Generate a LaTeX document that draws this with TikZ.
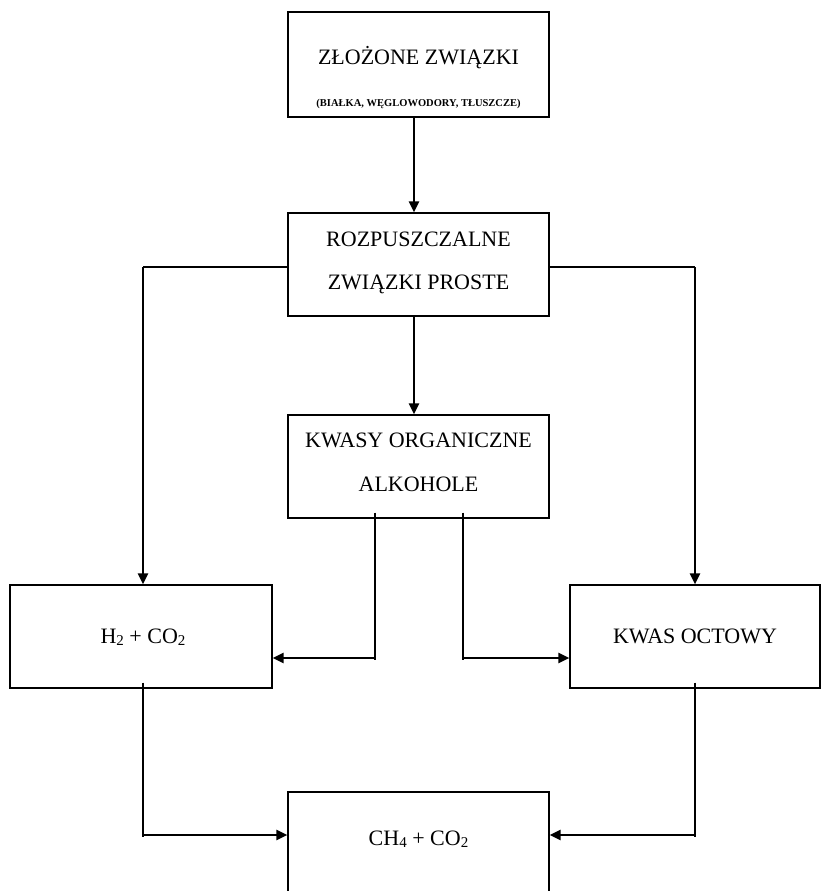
\documentclass[tikz,border=0pt]{standalone}
\usepackage{fontspec}
\setmainfont{Liberation Serif}
\usetikzlibrary{arrows.meta}
\newcommand{\subtxt}[1]{\raisebox{-0.25ex}{\fontsize{15}{15}\selectfont #1}}
\begin{document}
\begin{tikzpicture}[x=1pt,y=-1pt,
  boxnode/.style={draw, line width=1.2pt, inner sep=0pt},
  lbl/.style={anchor=base, inner sep=0pt, font=\fontsize{22}{25}\selectfont},
  sublbl/.style={anchor=base, inner sep=0pt, font=\fontsize{10.5}{12}\selectfont\bfseries},
  thinline/.style={line width=1.1pt},
  arr/.style={line width=2.2pt, -{Triangle[length=11pt,width=10pt]}}]
\useasboundingbox (0,0) rectangle (821,891);
% boxes
\node[boxnode, minimum width=261pt, minimum height=105pt] (b1) at (418.5,64.5) {};
\node[boxnode, minimum width=261pt, minimum height=103pt] (b2) at (418.5,264.5) {};
\node[boxnode, minimum width=261pt, minimum height=103pt] (b3) at (418.5,466.5) {};
\node[boxnode, minimum width=262pt, minimum height=103pt] (h2) at (141,636.5) {};
\node[boxnode, minimum width=250pt, minimum height=103pt] (ko) at (695,636.5) {};
\node[boxnode, minimum width=261pt, minimum height=116pt] (ch) at (418.5,850) {};
% texts
\node[lbl] (t1) at (418.5,65) {ZŁOŻONE ZWIĄZKI};
\node[sublbl] (t1b) at (418.5,106) {(BIAŁKA, WĘGLOWODORY, TŁUSZCZE)};
\node[lbl] (t2a) at (418.5,246) {ROZPUSZCZALNE};
\node[lbl] (t2b) at (418.5,289) {ZWIĄZKI PROSTE};
\node[lbl] (t3a) at (418.5,447) {KWASY ORGANICZNE};
\node[lbl] (t3b) at (418.5,491) {ALKOHOLE};
\node[lbl] (t4) at (143,643) {H\subtxt{2} + CO\subtxt{2}};
\node[lbl] (t5) at (695,643) {KWAS OCTOWY};
\node[lbl] (t6) at (418.5,845) {CH\subtxt{4} + CO\subtxt{2}};
% coordinates
\coordinate (a1) at ([xshift=-4.5pt]b1.south);
\coordinate (a2) at ([xshift=-4.5pt]b2.north);
\coordinate (a3) at ([xshift=-4.5pt]b2.south);
\coordinate (a4) at ([xshift=-4.5pt]b3.north);
\coordinate (sl) at ([yshift=-2.5pt]b2.west);
\coordinate (sr) at ([yshift=-2.5pt]b2.east);
\coordinate (hl) at ([xshift=2pt]h2.north);
\coordinate (kr) at (ko.north);
\coordinate (d1) at ([xshift=-43.5pt]b3.south);
\coordinate (d2) at ([xshift=44.5pt]b3.south);
\coordinate (he) at ([yshift=-21.5pt]h2.east);
\coordinate (ke) at ([yshift=-21.5pt]ko.west);
\coordinate (hb) at ([xshift=2pt]h2.south);
\coordinate (kb) at (ko.south);
\coordinate (cl) at ([yshift=15pt]ch.west);
\coordinate (cr) at ([yshift=15pt]ch.east);
% connectors
\draw[arr] (a1) -- (a2);
\draw[arr] (a3) -- (a4);
\draw[thinline] (sl) -- (sl -| hl);
\draw[arr] (sl -| hl) -- (hl);
\draw[thinline] (sr) -- (sr -| kr);
\draw[arr] (sr -| kr) -- (kr);
\draw[thinline] ([yshift=6pt]d1) -- ([yshift=-2pt]d1 |- he);
\draw[arr] (d1 |- he) -- (he);
\draw[thinline] ([yshift=6pt]d2) -- ([yshift=-2pt]d2 |- ke);
\draw[arr] (d2 |- ke) -- (ke);
\draw[thinline] ([yshift=6pt]hb) -- ([yshift=-2pt]hb |- cl);
\draw[arr] (hb |- cl) -- (cl);
\draw[thinline] ([yshift=6pt]kb) -- ([yshift=-2pt]kb |- cr);
\draw[arr] (kb |- cr) -- (cr);
\end{tikzpicture}
\end{document}
